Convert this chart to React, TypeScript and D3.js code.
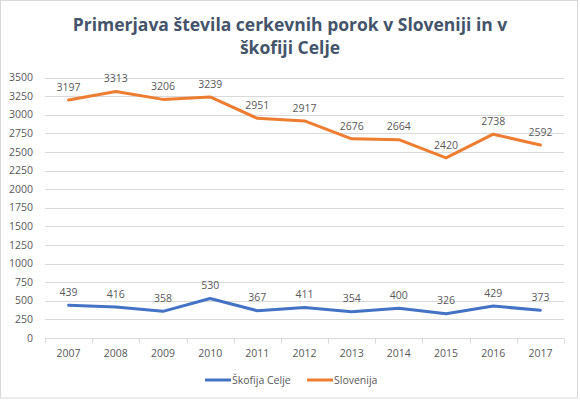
import React from "react";
import * as d3 from "d3";

const years = ["2007","2008","2009","2010","2011","2012","2013","2014","2015","2016","2017"];
const slovenija = [3197,3313,3206,3239,2951,2917,2676,2664,2420,2738,2592];
const celje = [439,416,358,530,367,411,354,400,326,429,373];
const yTicks = [0,250,500,750,1000,1250,1500,1750,2000,2250,2500,2750,3000,3250,3500];
const titleLines = ["Primerjava števila cerkevnih porok v Sloveniji in v", "škofiji Celje"];
const seriesNames = ["Škofija Celje", "Slovenija"];

const W = 580, H = 401;
const left = 45, right = 564, top = 77.5, bottom = 338;
const font = "'Open Sans', sans-serif";
const textColor = "#595959";

export default function App() {
  const x = d3.scaleBand().domain(years).range([left, right]);
  const y = d3.scaleLinear().domain([0, 3500]).range([bottom, top]);
  const line = d3.line<number>().x((_, i) => x(years[i])! + x.bandwidth() / 2).y(d => y(d));
  const series = [
    { name: seriesNames[0], values: celje, color: "#4472C4" },
    { name: seriesNames[1], values: slovenija, color: "#ED7D31" },
  ];
  const ticksX = years.map(yr => x(yr)!).concat([right]);
  return (
    <div style={{ position: "absolute", left: 0, top: 0 }}>
      <svg width={W} height={H} style={{ display: "block" }}>
        <rect x={0} y={0} width={W} height={H} fill="#fff" />
        <rect x={0.5} y={0.5} width={577} height={397.5} fill="none" stroke="#d9d9d9" />
        {titleLines.map((t, i) => (
          <text key={i} x={290} y={31 + i * 23} textAnchor="middle" fontFamily={font} fontWeight={700} fontSize={17.5} fill="#44546A">{t}</text>
        ))}
        {yTicks.map(t => (
          <g key={t}>
            {t > 0 && <line x1={left} x2={right} y1={Math.round(y(t)) + 0.5} y2={Math.round(y(t)) + 0.5} stroke="#d9d9d9" />}
            <text x={33} y={y(t)} dy="0.35em" textAnchor="end" fontFamily={font} fontSize={10.5} fill={textColor}>{t}</text>
          </g>
        ))}
        <line x1={left} x2={right} y1={Math.round(y(0)) + 0.5} y2={Math.round(y(0)) + 0.5} stroke="#d9d9d9" />
        {ticksX.map((tx, i) => (
          <line key={i} x1={Math.round(tx) + 0.5} x2={Math.round(tx) + 0.5} y1={Math.round(y(0)) + 0.5} y2={Math.round(y(0)) + 5.5} stroke="#d9d9d9" />
        ))}
        {years.map(yr => (
          <text key={yr} x={x(yr)! + x.bandwidth() / 2} y={353} dy="0.35em" textAnchor="middle" fontFamily={font} fontSize={10.5} fill={textColor}>{yr}</text>
        ))}
        {series.map(s => (
          <g key={s.name}>
            <path d={line(s.values)!} fill="none" stroke={s.color} strokeWidth={3} strokeLinejoin="round" strokeLinecap="round" />
            {s.values.map((v, i) => (
              <text key={i} x={x(years[i])! + x.bandwidth() / 2} y={y(v) - 13} dy="0.35em" textAnchor="middle" fontFamily={font} fontSize={10.5} fill={textColor}>{v}</text>
            ))}
          </g>
        ))}
        {series.map((s, i) => {
          const lx = i === 0 ? 205 : 307;
          return (
            <g key={s.name}>
              <line x1={lx} x2={lx + 26} y1={380} y2={380} stroke={s.color} strokeWidth={3} />
              <text x={lx + 27} y={380} dy="0.35em" fontFamily={font} fontSize={10.5} fill={textColor}>{s.name}</text>
            </g>
          );
        })}
      </svg>
    </div>
  );
}
